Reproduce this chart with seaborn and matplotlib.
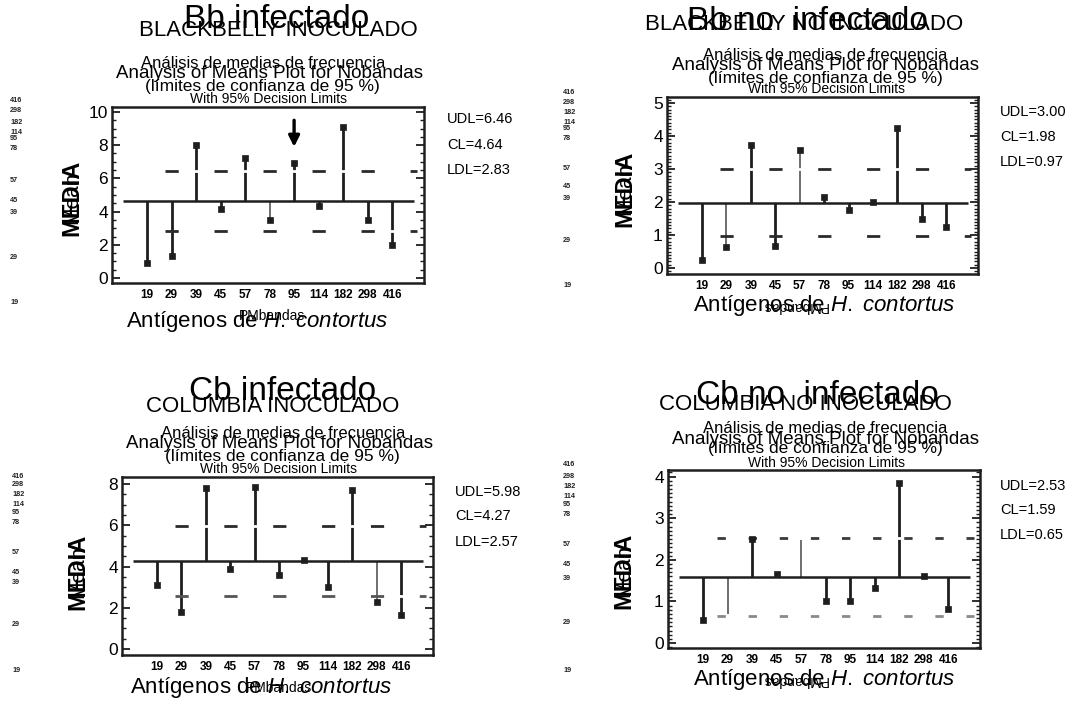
import numpy as np
import pandas as pd
import matplotlib
matplotlib.use("Agg")
import matplotlib.pyplot as plt
import seaborn as sns
from matplotlib.ticker import MultipleLocator
from matplotlib import font_manager as fm

# ---------------- data ----------------
categories = ['19', '29', '39', '45', '57', '78', '95', '114', '182', '298', '416']

bb_inf_means = [0.9, 1.3, 8.0, 4.15, 7.2, 3.5, 6.9, 4.35, 9.1, 3.5, 2.0]
bb_noinf_means = [0.25, 0.65, 3.72, 0.67, 3.57, 2.15, 1.75, 2.0, 4.25, 1.5, 1.25]
cb_inf_means = [3.1, 1.8, 7.8, 3.9, 7.85, 3.6, 4.3, 3.0, 7.7, 2.3, 1.65]
cb_noinf_means = [0.55, 0.7, 2.5, 1.65, 2.47, 1.0, 1.0, 1.32, 3.85, 1.6, 0.82]

bb_inf_limits = [6.46, 4.64, 2.83]      # UDL, CL, LDL
bb_noinf_limits = [3.00, 1.98, 0.97]
cb_inf_limits = [5.98, 4.27, 2.57]
cb_noinf_limits = [2.53, 1.59, 0.65]

panel_titles = ['Bb infectado', 'Bb no  infectado', 'Cb infectado', 'Cb no  infectado']
panel_subtitles = ['BLACKBELLY INOCULADO', 'BLACKBELLY NO INOCULADO',
                   'COLUMBIA INOCULADO', 'COLUMBIA NO INOCULADO']
ladder_labels = ['416', '298', '182', '114', '95', '78', '57', '45', '39', '29', '19']

# markers that are missing in the reference (stem only)
no_marker = [[], [], [], [1, 4]]
thin_stems = [[5], [1, 4], [9], [1, 4]]

# ---------------- style ----------------
sns.set_theme(style='white')
plt.rcParams['font.family'] = ['Liberation Sans', 'DejaVu Sans']
plt.rcParams['text.color'] = 'black'
plt.rcParams['axes.labelcolor'] = 'black'
plt.rcParams['xtick.color'] = 'black'
plt.rcParams['ytick.color'] = 'black'
plt.rcParams['mathtext.fontset'] = 'custom'
plt.rcParams['mathtext.rm'] = 'Liberation Sans'
plt.rcParams['mathtext.it'] = 'Liberation Sans:italic'
plt.rcParams['lines.scale_dashes'] = False


def has_font(name):
    try:
        fm.findfont(fm.FontProperties(family=name), fallback_to_default=False)
        return True
    except Exception:
        return False


NARROW = 'Liberation Sans Narrow' if has_font('Liberation Sans Narrow') else 'Liberation Sans'

W, H, DPI = 1091, 706, 100
fig = plt.figure(figsize=(W / DPI, H / DPI), dpi=DPI)
fig.patch.set_facecolor('white')


def ftext(x, y, s, ha='center', va='center', **kw):
    kw.setdefault('color', 'black')
    return fig.text(x / W, 1 - y / H, s, ha=ha, va=va, **kw)


# layout in pixels
layout = [
    dict(rect=(112, 107, 424, 283), ylim=(-0.3, 10.3), major=2, minor=0.5,
         title=(277, 19), sub=(278, 31), an=[(263, 64), (270, 73), (262, 87), (268, 99)],
         rx=447, ry=[119, 145, 170], ylab=(72, 198), xlab=(257, 322), pm=(272, 316, 0),
         lx=10, ly=[100, 110, 122, 132, 139, 149, 180, 200, 212, 257, 303],
         dash=dict(x0=0.73, x1=11.0, on=0.54, off=1.46), udl_c='#2a2a2a', ldl_c='#2a2a2a'),
    dict(rect=(667, 97, 978, 274), ylim=(-0.18, 5.18), major=1, minor=0.1,
         title=(807, 21), sub=(804, 25), an=[(825, 55), (825, 65), (825, 78), (826, 89)],
         rx=1000, ry=[112, 137, 162], ylab=(625, 189), xlab=(824, 306), pm=(795, 306, 180),
         lx=563, ly=[93, 102, 112, 122, 129, 139, 168, 187, 199, 240, 285],
         dash=dict(x0=0.73, x1=11.0, on=0.54, off=1.46), udl_c='#2a2a2a', ldl_c='#2a2a2a'),
    dict(rect=(122, 477, 433, 655), ylim=(-0.29, 8.34), major=2, minor=0.5,
         title=(283, 392), sub=(273, 407), an=[(283, 434), (279, 444), (282, 456), (278, 469)],
         rx=455, ry=[492, 516, 542], ylab=(78, 572), xlab=(261, 688), pm=(279, 688, 0),
         lx=12, ly=[476, 485, 495, 505, 513, 523, 552, 572, 583, 625, 670],
         dash=dict(x0=0.73, x1=11.0, on=0.54, off=1.46), udl_c='#2a2a2a', ldl_c='#555555'),
    dict(rect=(668, 470, 980, 648), ylim=(-0.12, 4.16), major=1, minor=0.1,
         title=(817, 396), sub=(805, 404), an=[(825, 428), (825, 439), (825, 448), (826, 463)],
         rx=1000, ry=[486, 510, 535], ylab=(624, 571), xlab=(824, 680), pm=(795, 680, 180),
         lx=563, ly=[465, 476, 486, 496, 504, 515, 545, 565, 578, 622, 670],
         dash=dict(x0=0.58, x1=11.07, on=0.34, off=0.93), udl_c='#3a3a3a', ldl_c='#8a8a8a'),
]

means_all = [bb_inf_means, bb_noinf_means, cb_inf_means, cb_noinf_means]
limits_all = [bb_inf_limits, bb_noinf_limits, cb_inf_limits, cb_noinf_limits]

DARK = '#1e1e1e'

for p, (vals, lims, L) in enumerate(zip(means_all, limits_all, layout)):
    x0, y0, x1, y1 = L['rect']
    ax = fig.add_axes([x0 / W, 1 - y1 / H, (x1 - x0) / W, (y1 - y0) / H])
    ax.set_facecolor('white')
    udl, cl, ldl = lims
    idx = np.arange(len(categories))
    df = pd.DataFrame({'idx': idx, 'cat': categories, 'mean': vals})

    ax.set_xlim(-1.43, 11.3)
    ax.set_ylim(*L['ylim'])

    # stems from centre line
    for i, v in zip(idx, vals):
        thin = i in thin_stems[p]
        ax.vlines(i, cl, v, color='#555555' if thin else DARK,
                  lw=1.2 if thin else 2.0, zorder=2)

    # centre line
    ax.hlines(cl, -1.0, 10.9, color=DARK, lw=1.8, zorder=3)

    # decision limits: dashed with white gaps (they interrupt the stems)
    fig.canvas.draw()
    px_per_idx = ax.transData.transform((1, 0))[0] - ax.transData.transform((0, 0))[0]
    d = L['dash']
    on_pt = d['on'] * px_per_idx * 72 / DPI
    off_pt = d['off'] * px_per_idx * 72 / DPI
    for lvl, col in ((udl, L['udl_c']), (ldl, L['ldl_c'])):
        ax.plot([d['x0'], d['x1']], [lvl, lvl], color=col, lw=2.0,
                linestyle=(0, (on_pt, off_pt)), gapcolor='white',
                solid_capstyle='butt', dash_capstyle='butt', zorder=4)

    # markers
    mdf = df[~df['idx'].isin(no_marker[p])]
    sns.scatterplot(data=mdf, x='idx', y='mean', marker='s', s=18, color=DARK,
                    edgecolor=DARK, linewidth=0.5, ax=ax, zorder=6, legend=False)

    if p == 0:
        ax.annotate('', xy=(6, 7.9), xytext=(6, 9.5),
                    arrowprops=dict(arrowstyle='-|>', lw=2.4, color='black',
                                    mutation_scale=16, shrinkA=0, shrinkB=0), zorder=7)

    # axes styling
    ax.set_xlabel('')
    ax.set_ylabel('')
    ax.set_xticks(idx)
    ax.set_xticklabels(categories, fontsize=8.5, fontweight='bold', family=NARROW, color='black')
    ax.tick_params(axis='x', length=0, pad=4, labelcolor='black')
    ax.yaxis.set_major_locator(MultipleLocator(L['major']))
    ax.yaxis.set_minor_locator(MultipleLocator(L['minor']))
    ax.tick_params(axis='y', which='major', direction='in', length=6, width=1.3,
                   left=True, right=True, labelsize=12.5, pad=3, colors=DARK, labelcolor='black')
    ax.tick_params(axis='y', which='minor', direction='in', length=3, width=1.0,
                   left=True, right=True, colors=DARK)
    for s in ax.spines.values():
        s.set_visible(True)
        s.set_color(DARK)
        s.set_linewidth(1.8)

    # titles and texts
    ftext(*L['title'], panel_titles[p], fontsize=24)
    ftext(*L['sub'], panel_subtitles[p], fontsize=16)
    ftext(*L['an'][0], 'Análisis de medias de frecuencia', fontsize=12)
    ftext(*L['an'][1], 'Analysis of Means Plot for Nobandas', fontsize=13.5, family=NARROW)
    ftext(*L['an'][2], '(límites de confianza de 95 %)', fontsize=12.5)
    ftext(*L['an'][3], 'With 95% Decision Limits', fontsize=10, family=NARROW)
    for lab, val, yy in zip(['UDL', 'CL', 'LDL'], lims, L['ry']):
        ftext(L['rx'], yy, f'{lab}={val:.2f}', ha='left', fontsize=10.5, family=NARROW)
    ftext(*L['ylab'], 'MEDIA', rotation=90, fontsize=17, fontweight='bold')
    ftext(*L['ylab'], 'Mean', rotation=90, fontsize=15)
    ftext(*L['xlab'], r'Antígenos de $\mathit{H.\ contortus}$', fontsize=16)
    pmx, pmy, pmr = L['pm']
    ftext(pmx, pmy, 'PMbandas', rotation=pmr, fontsize=10, family=NARROW)
    for lab, yy in zip(ladder_labels, L['ly']):
        ftext(L['lx'], yy, lab, ha='left', fontsize=5.2, fontweight='bold', color='#222222')

fig.savefig('out.png', dpi=DPI, facecolor='white')
